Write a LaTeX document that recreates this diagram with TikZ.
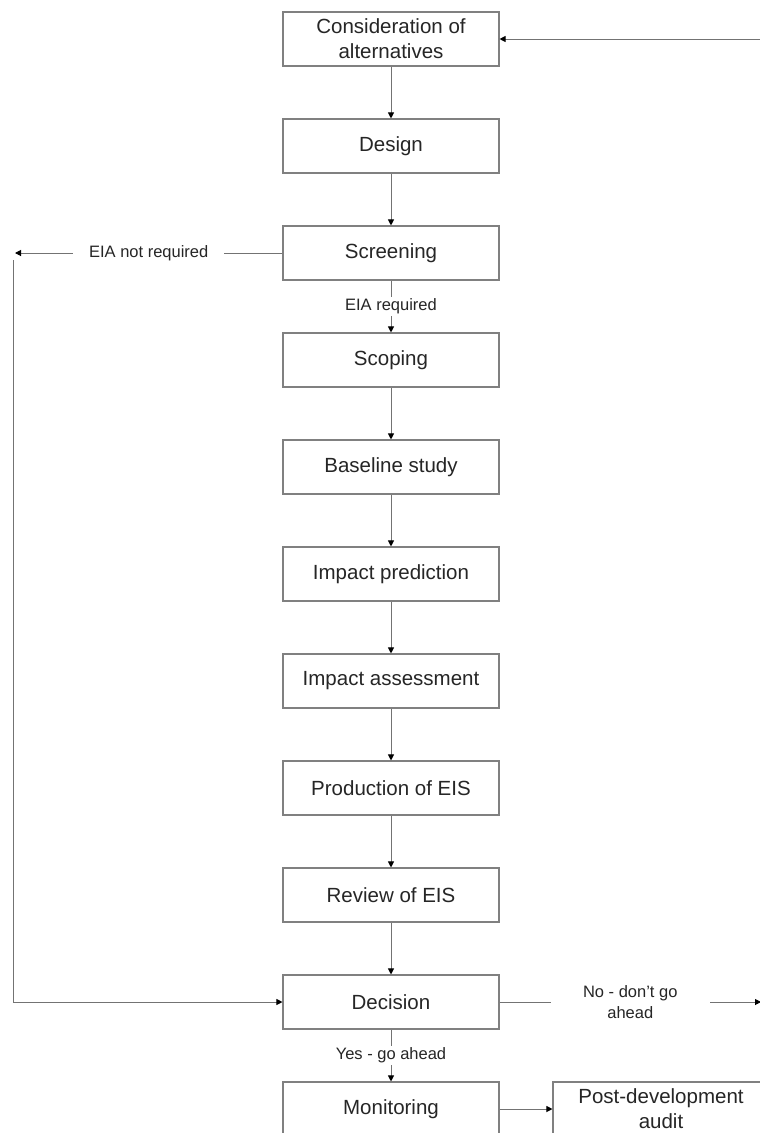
\documentclass[tikz,border=0pt]{standalone}
\usepackage{fontspec}
\setmainfont{Liberation Sans}
\usetikzlibrary{arrows.meta}
\begin{document}
\begin{tikzpicture}[x=1pt,y=-1pt,
  stepbox/.style={draw=black!50, line width=1.1pt, fill=white, minimum width=216pt, minimum height=54pt, inner sep=0pt, align=center, text=black!85, font=\fontsize{20.5}{25}\selectfont},
  lbl/.style={fill=white, text=black!85, font=\fontsize{16.5}{21}\selectfont, align=center, inner ysep=2pt, inner xsep=4pt},
  conn/.style={draw=black!55, line width=1pt, -{Triangle[length=6pt,width=6pt,black]}},
  plain/.style={draw=black!55, line width=1pt}]
\useasboundingbox (0,0) rectangle (760,1133);
\clip (0,0) rectangle (760,1133);
\fill[white] (0,0) rectangle (760,1133);
\node[stepbox] (alt) at (391,39) {Consideration of\\alternatives};
\node[stepbox] (design) at (391,146) {Design};
\node[stepbox] (screen) at (391,253) {Screening};
\node[stepbox] (scoping) at (391,360) {Scoping};
\node[stepbox] (baseline) at (391,467) {Baseline study};
\node[stepbox] (predict) at (391,574) {Impact prediction};
\node[stepbox] (assess) at (391,681) {Impact assessment};
\node[stepbox] (eis) at (391,788) {Production of EIS};
\node[stepbox] (review) at (391,895) {Review of EIS};
\node[stepbox] (decision) at (391,1002) {Decision};
\node[stepbox] (monitor) at (391,1109) {Monitoring};
\node[stepbox] (post) at (661,1109) {Post-development\\audit};
\coordinate (nl) at (15,253);
\coordinate (lt) at (13,260);
\coordinate (re) at (761,1002);
\coordinate (rt) at (761,39);
\draw[conn] (alt) -- (design);
\draw[conn] (design) -- (screen);
\draw[conn] (screen) -- node[lbl]{EIA required} (scoping);
\draw[conn] (scoping) -- (baseline);
\draw[conn] (baseline) -- (predict);
\draw[conn] (predict) -- (assess);
\draw[conn] (assess) -- (eis);
\draw[conn] (eis) -- (review);
\draw[conn] (review) -- (decision);
\draw[conn] (decision) -- node[lbl]{Yes - go ahead} (monitor);
\draw[conn] (monitor) -- (post);
\draw[conn] (screen) -- node[lbl, inner xsep=16pt]{EIA not required} (nl);
\draw[conn] (lt) |- (decision);
\draw[conn] (decision) -- node[lbl, inner xsep=32pt]{No - don't go\\ahead} (re);
\draw[conn] (rt) -- (alt);
\end{tikzpicture}
\end{document}
